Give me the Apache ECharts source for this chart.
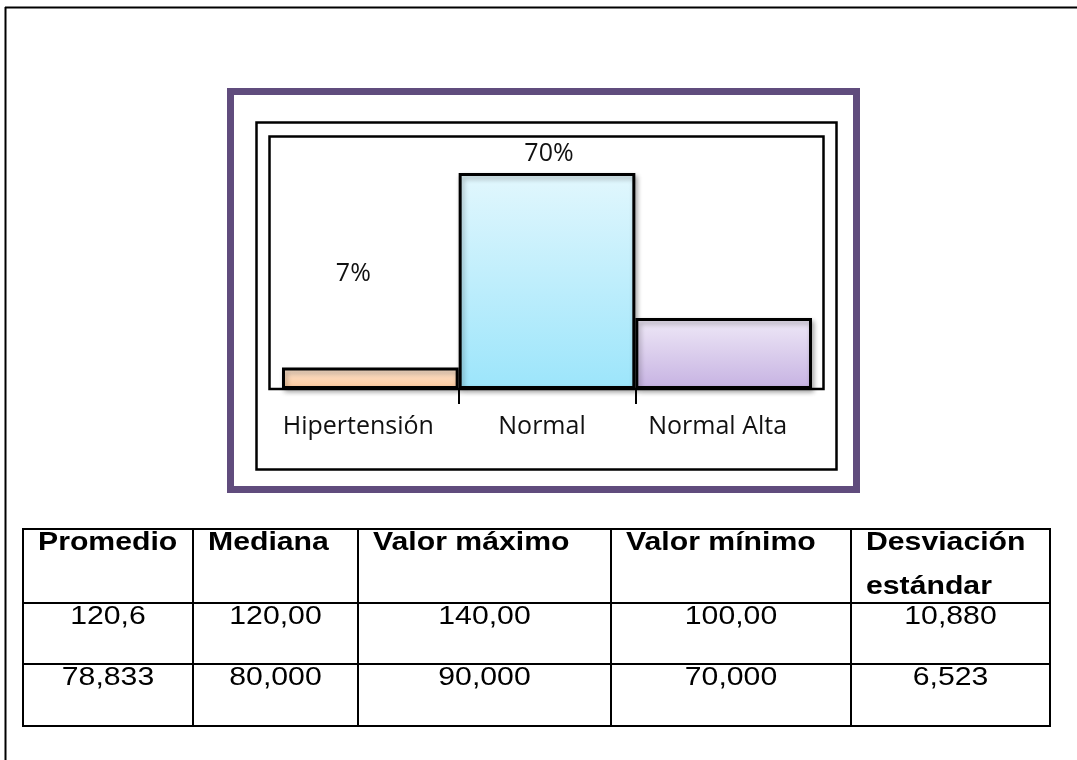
<!DOCTYPE html>
<html><head><meta charset="utf-8">
<script src="https://cdn.jsdelivr.net/npm/echarts@6/dist/echarts.min.js"></script>
<style>html,body{margin:0;padding:0;background:#fff}#c{width:1077px;height:760px}</style>
</head><body><div id="c"></div>
<script>
// ---- data ----
const categories = ['Hipertensión', 'Normal', 'Normal Alta'];
const percentages = [7, 70, 23];
const showValueLabel = [true, true, false];
const tableHeaders = [['Promedio'], ['Mediana'], ['Valor máximo'], ['Valor mínimo'], ['Desviación', 'estándar']];
const tableRow1 = ['120,6', '120,00', '140,00', '100,00', '10,880'];
const tableRow2 = ['78,833', '80,000', '90,000', '70,000', '6,523'];

// ---- styles / layout ----
const barTop = ['#fde6d2', '#e2f7fd', '#efe9f7'];
const barBottom = ['#fbc79a', '#9ce5fb', '#c6b2e2'];
const labelOffsets = [[-17, -76], [2, -2], [0, 0]];
const catLabelPadRight = [24, 10, 12];
const colEdges = [23, 193, 358, 611, 851, 1050];
const rowEdges = [529, 603, 664, 726];
const tableFont = '"Liberation Sans", Arial, sans-serif';
const chartFont = '"Open Sans", sans-serif';

const chart = echarts.init(document.getElementById('c'), null, {renderer: 'canvas'});

const graphics = [];
// page frame (top + left)
graphics.push({type: 'line', z: 1, shape: {x1: 5, y1: 7.5, x2: 1077, y2: 7.5}, style: {stroke: '#000', lineWidth: 2}});
graphics.push({type: 'line', z: 1, shape: {x1: 5.5, y1: 7, x2: 5.5, y2: 760}, style: {stroke: '#000', lineWidth: 2}});
// purple frame
graphics.push({type: 'rect', z: 1, shape: {x: 230.5, y: 91.5, width: 626, height: 398}, style: {fill: null, stroke: '#604c7d', lineWidth: 7}});
// chart area frame
graphics.push({type: 'rect', z: 1, shape: {x: 256.5, y: 122.5, width: 580, height: 347}, style: {fill: null, stroke: '#000', lineWidth: 2.5}});
// plot area frame
graphics.push({type: 'rect', z: 1, shape: {x: 269.5, y: 136.5, width: 554, height: 252.5}, style: {fill: null, stroke: '#000', lineWidth: 2.5}});

// table grid
const tL = colEdges[0], tR = colEdges[colEdges.length - 1], tT = rowEdges[0], tB = rowEdges[rowEdges.length - 1];
colEdges.forEach(x => graphics.push({type: 'line', z: 1, shape: {x1: x, y1: tT, x2: x, y2: tB}, style: {stroke: '#000', lineWidth: 2}}));
rowEdges.forEach(y => graphics.push({type: 'line', z: 1, shape: {x1: tL - 1, y1: y, x2: tR + 1, y2: y}, style: {stroke: '#000', lineWidth: 2}}));

// header texts
tableHeaders.forEach((lines, i) => {
  lines.forEach((t, j) => {
    graphics.push({type: 'text', z: 3, x: colEdges[i] + 15, y: rowEdges[0] + 14 + j * 44, scaleX: 1.14,
      style: {text: t, fontFamily: tableFont, fontWeight: 'bold', fontSize: 26.5, fill: '#000', align: 'left', verticalAlign: 'middle'}});
  });
});
[tableRow1, tableRow2].forEach((row, r) => {
  row.forEach((t, i) => {
    graphics.push({type: 'text', z: 3, x: (colEdges[i] + colEdges[i + 1]) / 2, y: rowEdges[r + 1] + 14, scaleX: 1.14,
      style: {text: t, fontFamily: tableFont, fontSize: 26.5, fill: '#000', align: 'center', verticalAlign: 'middle'}});
  });
});

const barData = percentages.map((v, i) => ({
  value: v,
  itemStyle: {
    color: new echarts.graphic.LinearGradient(0, 0, 0, 1, [{offset: 0, color: barTop[i]}, {offset: 1, color: barBottom[i]}])
  },
  label: {show: showValueLabel[i], offset: labelOffsets[i]}
}));

const axisData = categories.map((c, i) => ({value: c, textStyle: {padding: [0, catLabelPadRight[i], 0, 0]}}));

chart.setOption({
  animation: false,
  backgroundColor: '#fff',
  grid: [
    {left: 282, right: 265, top: 142, bottom: 371},
    {left: 282, right: 265, top: 389, height: 15}
  ],
  xAxis: [
    {type: 'category', gridIndex: 0, data: axisData, boundaryGap: true,
      axisLine: {show: false}, axisTick: {show: false}, splitLine: {show: false},
      axisLabel: {interval: 0, margin: 25, fontFamily: chartFont, fontSize: 25, color: '#111'}},
    {type: 'category', gridIndex: 1, data: categories, boundaryGap: true,
      axisLine: {show: false}, axisTick: {show: false}, axisLabel: {show: false},
      splitLine: {show: true, showMinLine: false, showMaxLine: false, lineStyle: {color: '#000', width: 2}}}
  ],
  yAxis: [
    {type: 'value', gridIndex: 0, min: 0, max: 80, show: false, splitLine: {show: false}},
    {type: 'value', gridIndex: 1, min: 0, max: 1, show: false, splitLine: {show: false}}
  ],
  series: [{
    type: 'bar', xAxisIndex: 0, yAxisIndex: 0, barCategoryGap: '0%', z: 2,
    data: barData,
    itemStyle: {borderColor: '#000', borderWidth: 3, shadowColor: 'rgba(0,0,0,0.3)', shadowBlur: 5, shadowOffsetX: 2, shadowOffsetY: 3},
    label: {position: 'top', distance: 5, formatter: '{c}%', fontFamily: chartFont, fontSize: 25, color: '#111'}
  }],
  graphic: graphics
});
</script></body></html>
